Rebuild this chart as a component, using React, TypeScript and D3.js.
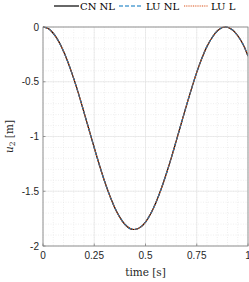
import React from "react";
import * as d3 from "d3";

const times = [0, 0.025, 0.05, 0.075, 0.1, 0.125, 0.15, 0.175, 0.2, 0.225, 0.25, 0.275, 0.3, 0.325, 0.35, 0.375, 0.4, 0.425, 0.45, 0.475, 0.5, 0.525, 0.55, 0.575, 0.6, 0.625, 0.65, 0.675, 0.7, 0.725, 0.75, 0.775, 0.8, 0.825, 0.85, 0.875, 0.9, 0.925, 0.95, 0.975, 1.0];
const cnNL = [0, -0.014, -0.057, -0.127, -0.221, -0.338, -0.472, -0.62, -0.779, -0.941, -1.103, -1.26, -1.406, -1.537, -1.65, -1.739, -1.804, -1.841, -1.849, -1.829, -1.781, -1.706, -1.607, -1.487, -1.349, -1.2, -1.04, -0.877, -0.715, -0.56, -0.414, -0.286, -0.177, -0.096, -0.037, -0.005, -0.002, -0.028, -0.08, -0.155, -0.265];
const luNL = [0, -0.014, -0.057, -0.127, -0.221, -0.338, -0.472, -0.62, -0.779, -0.941, -1.103, -1.26, -1.406, -1.537, -1.65, -1.739, -1.804, -1.841, -1.849, -1.829, -1.781, -1.706, -1.607, -1.487, -1.349, -1.2, -1.04, -0.877, -0.715, -0.56, -0.414, -0.286, -0.177, -0.096, -0.037, -0.005, -0.002, -0.028, -0.08, -0.155, -0.265];
const luL = [0, -0.014, -0.057, -0.127, -0.221, -0.338, -0.472, -0.62, -0.779, -0.941, -1.103, -1.26, -1.406, -1.537, -1.65, -1.739, -1.804, -1.841, -1.849, -1.829, -1.781, -1.706, -1.607, -1.487, -1.349, -1.2, -1.04, -0.877, -0.715, -0.56, -0.414, -0.286, -0.177, -0.096, -0.037, -0.005, -0.002, -0.028, -0.08, -0.155, -0.265];

const xTicks = [0, 0.25, 0.5, 0.75, 1];
const xTickLabels = ["0", "0.25", "0.5", "0.75", "1"];
const yTicks = [0, -0.5, -1, -1.5, -2];
const yTickLabels = ["0", "-0.5", "-1", "-1.5", "-2"];
const xMinor = d3.range(0, 1.0001, 0.05);
const yMinor = d3.range(-2, 0.0001, 0.1);

export default function App() {
  const W = 249, H = 282;
  const left = 43, right = 248, top = 27, bottom = 246;
  const x = d3.scaleLinear().domain([0, 1]).range([left, right]);
  const y = d3.scaleLinear().domain([-2, 0]).range([bottom, top]);
  const mk = (vals: number[]) =>
    d3.line<number>().x((_, i) => x(times[i])).y((v) => y(v)).curve(d3.curveCatmullRom)(vals) || "";
  const serif = "'DejaVu Serif', 'Liberation Serif', serif";
  const sans = "'Liberation Sans', Arial, sans-serif";
  return (
    <svg width={W} height={H} style={{ position: "absolute", left: 0, top: 0, background: "#fff" }}>
      <rect x={0} y={0} width={W} height={H} fill="#fff" />
      <defs>
        <clipPath id="pc"><rect x={left} y={top - 2} width={right - left} height={bottom - top + 4} /></clipPath>
      </defs>
      {xMinor.map((t, i) => (
        <line key={"xm" + i} x1={x(t)} x2={x(t)} y1={top} y2={bottom} stroke="#e4e4e4" strokeWidth={0.6} strokeDasharray="1,1.5" />
      ))}
      {yMinor.map((t, i) => (
        <line key={"ym" + i} x1={left} x2={right} y1={y(t)} y2={y(t)} stroke="#e4e4e4" strokeWidth={0.6} strokeDasharray="1,1.5" />
      ))}
      {xTicks.map((t, i) => (
        <line key={"xg" + i} x1={x(t)} x2={x(t)} y1={top} y2={bottom} stroke="#e0e0e0" strokeWidth={0.6} />
      ))}
      {yTicks.map((t, i) => (
        <line key={"yg" + i} x1={left} x2={right} y1={y(t)} y2={y(t)} stroke="#e0e0e0" strokeWidth={0.6} />
      ))}
      <g clipPath="url(#pc)">
        <path d={mk(cnNL)} fill="none" stroke="#000" strokeWidth={1.2} />
        <path d={mk(luNL)} fill="none" stroke="#0072BD" strokeWidth={1.2} strokeDasharray="4,2" />
        <path d={mk(luL)} fill="none" stroke="#D95319" strokeWidth={1.2} strokeDasharray="1,1" />
      </g>
      <rect x={left} y={top} width={right - left} height={bottom - top} fill="none" stroke="#808080" strokeWidth={0.8} />
      {xTicks.map((t, i) => (
        <g key={"xt" + i}>
          <line x1={x(t)} x2={x(t)} y1={bottom} y2={bottom - 2.5} stroke="#808080" strokeWidth={0.8} />
          <text x={x(t)} y={bottom + 13} textAnchor="middle" fontFamily={sans} fontSize={10} fill="#262626">{xTickLabels[i]}</text>
        </g>
      ))}
      {yTicks.map((t, i) => (
        <g key={"yt" + i}>
          <line x1={left} x2={left + 2.5} y1={y(t)} y2={y(t)} stroke="#808080" strokeWidth={0.8} />
          <text x={left - 4} y={y(t) + 3.5} textAnchor="end" fontFamily={sans} fontSize={10} fill="#262626">{yTickLabels[i]}</text>
        </g>
      ))}
      <text x={(left + right) / 2} y={276} textAnchor="middle" fontFamily={serif} fontSize={10.5} fill="#262626">time [s]</text>
      <text transform={`translate(13, ${(top + bottom) / 2}) rotate(-90)`} textAnchor="middle" fontFamily={serif} fontSize={10.5} fill="#262626">
        <tspan fontStyle="italic">u</tspan>
        <tspan fontSize={7.5} dy={2}>2</tspan>
        <tspan dy={-2}> [m]</tspan>
      </text>
      <g fontFamily={serif} fontSize={10} fill="#000">
        <line x1={54} x2={79} y1={6} y2={6} stroke="#000" strokeWidth={1.2} />
        <text x={80} y={10}>CN NL</text>
        <line x1={119} x2={143} y1={6} y2={6} stroke="#0072BD" strokeWidth={1.2} strokeDasharray="4,2" />
        <text x={146} y={10}>LU NL</text>
        <line x1={184} x2={208} y1={6} y2={6} stroke="#D95319" strokeWidth={1.2} strokeDasharray="1,0.8" />
        <text x={211} y={10}>LU L</text>
      </g>
    </svg>
  );
}
